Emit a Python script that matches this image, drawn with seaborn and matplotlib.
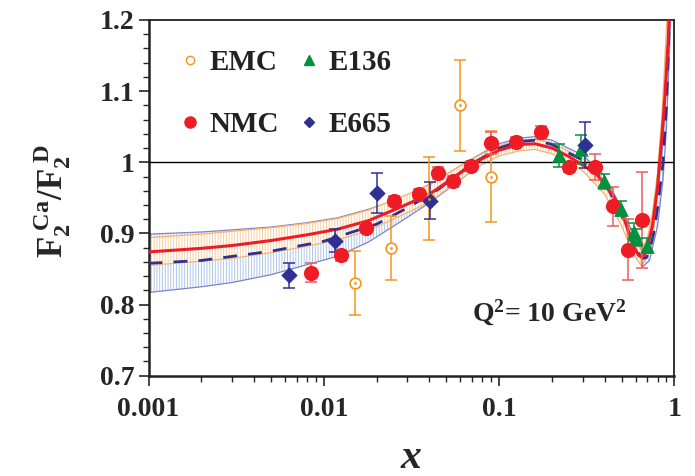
import numpy as np
import pandas as pd
import matplotlib
matplotlib.use("Agg")
import matplotlib.pyplot as plt
import seaborn as sns
from matplotlib.lines import Line2D

# ---------------- data ----------------
nmc_x = [0.0085, 0.0125, 0.0175, 0.0251, 0.0347, 0.0448, 0.0546, 0.0695, 0.0896,
         0.124, 0.174, 0.250, 0.350, 0.445, 0.544, 0.649]
nmc_y = [0.845, 0.869, 0.908, 0.946, 0.956, 0.985, 0.973, 0.995, 1.027,
         1.029, 1.042, 0.993, 0.993, 0.938, 0.877, 0.919]
nmc_e = [0.013, 0.008, 0.006, 0.007, 0.006, 0.008, 0.008, 0.007, 0.015,
         0.006, 0.009, 0.007, 0.018, 0.027, 0.043, 0.068]

emc_x = [0.0150, 0.0240, 0.0400, 0.0596, 0.0896]
emc_y = [0.830, 0.880, 0.949, 1.080, 0.980]
emc_e = [0.045, 0.045, 0.058, 0.064, 0.064]

e136_x = [0.218, 0.294, 0.394, 0.497, 0.585, 0.600, 0.695]
e136_y = [1.010, 1.018, 0.973, 0.935, 0.902, 0.894, 0.883]
e136_e = [0.016, 0.020, 0.010, 0.010, 0.012, 0.012, 0.010]

e665_x = [0.0063, 0.0116, 0.0202, 0.0402, 0.307]
e665_y = [0.841, 0.890, 0.957, 0.946, 1.024]
e665_e = [0.018, 0.016, 0.028, 0.026, 0.032]

# central fit (solid red)
fitA_x = [0.001, 0.002, 0.003, 0.005, 0.008, 0.012, 0.018, 0.028, 0.04, 0.06, 0.08,
          0.1, 0.13, 0.16, 0.2, 0.25, 0.3, 0.36, 0.45, 0.52, 0.58, 0.62, 0.645, 0.67,
          0.7, 0.75, 0.8, 0.85, 0.88, 0.92, 0.94]
fitA_y = [0.874, 0.879, 0.883, 0.890, 0.898, 0.906, 0.918, 0.938, 0.955, 0.985, 1.005,
          1.017, 1.025, 1.026, 1.020, 1.008, 0.996, 0.983, 0.952, 0.918, 0.884, 0.870, 0.867, 0.869,
          0.880, 0.912, 0.965, 1.040, 1.090, 1.170, 1.220]
# second fit (dashed navy)
fitB_x = [0.001, 0.002, 0.005, 0.01, 0.02, 0.03, 0.045, 0.07, 0.1, 0.13, 0.16, 0.2,
          0.3, 0.4, 0.5, 0.58, 0.63, 0.66, 0.69, 0.72, 0.76, 0.8, 0.86, 0.9, 0.935, 0.95]
fitB_y = [0.858, 0.862, 0.875, 0.889, 0.913, 0.936, 0.962, 0.998, 1.020, 1.029, 1.031,
          1.025, 1.003, 0.972, 0.925, 0.887, 0.870, 0.865, 0.866, 0.875, 0.900, 0.935, 1.000, 1.080,
          1.200, 1.250]
# uncertainty band of fit A (orange)
bandA_x = [0.001, 0.002, 0.003, 0.005, 0.008, 0.012, 0.018, 0.028, 0.04, 0.06, 0.08, 0.1,
           0.13, 0.16, 0.2, 0.3, 0.4, 0.5, 0.58, 0.645, 0.7, 0.75, 0.8, 0.85, 0.9, 0.93]
bandA_lo = [0.855, 0.861, 0.865, 0.873, 0.882, 0.891, 0.904, 0.926, 0.944, 0.976, 0.997, 1.009,
            1.016, 1.018, 1.012, 0.988, 0.955, 0.910, 0.872, 0.855, 0.866, 0.895, 0.955, 1.035, 1.135, 1.220]
bandA_hi = [0.894, 0.899, 0.903, 0.908, 0.914, 0.921, 0.933, 0.952, 0.968, 0.995, 1.012, 1.023,
            1.031, 1.032, 1.027, 1.005, 0.975, 0.932, 0.893, 0.877, 0.893, 0.930, 0.985, 1.070, 1.190, 1.260]
# uncertainty band of fit B (blue)
bandB_x = [0.001, 0.002, 0.003, 0.005, 0.008, 0.012, 0.018, 0.028, 0.04, 0.06, 0.08, 0.1,
           0.13, 0.16, 0.2, 0.3, 0.4, 0.5, 0.6, 0.66, 0.72, 0.8, 0.86, 0.9, 0.94, 0.96]
bandB_lo = [0.817, 0.825, 0.831, 0.842, 0.856, 0.868, 0.888, 0.918, 0.943, 0.975, 1.000, 1.012,
            1.022, 1.024, 1.018, 0.995, 0.962, 0.914, 0.868, 0.853, 0.862, 0.910, 0.975, 1.050, 1.170, 1.250]
bandB_hi = [0.899, 0.902, 0.905, 0.909, 0.915, 0.922, 0.934, 0.950, 0.969, 0.995, 1.013, 1.026,
            1.034, 1.036, 1.031, 1.010, 0.981, 0.935, 0.892, 0.878, 0.890, 0.960, 1.030, 1.110, 1.250, 1.300]

xticks = [0.001, 0.01, 0.1, 1]
xticklabels = ["0.001", "0.01", "0.1", "1"]
yticks = [0.7, 0.8, 0.9, 1.0, 1.1, 1.2]
yticklabels = ["0.7", "0.8", "0.9", "1", "1.1", "1.2"]

# ---------------- style ----------------
sns.set_style("ticks")
plt.rcParams["font.family"] = ["Liberation Serif", "DejaVu Serif"]
plt.rcParams["font.weight"] = "bold"
plt.rcParams["mathtext.fontset"] = "custom"
plt.rcParams["mathtext.rm"] = "Liberation Serif:bold"
plt.rcParams["mathtext.bf"] = "Liberation Serif:bold"
plt.rcParams["mathtext.it"] = "Liberation Serif:italic:bold"
plt.rcParams["hatch.linewidth"] = 0.7

RED = "#ee1c25"
ORANGE = "#f7941d"
GREEN = "#00923f"
NAVY = "#2e3192"

fig = plt.figure(figsize=(6.95, 4.76), dpi=100)
ax = fig.add_axes([0.2137, 0.2107, 0.7568, 0.7473])
ax.set_xscale("log")

# bands
ax.fill_between(bandB_x, bandB_lo, bandB_hi, facecolor="none",
                edgecolor="#aec6e8", hatch="||||||", linewidth=0, zorder=1)
ax.plot(bandB_x, bandB_lo, color="#7f83c9", lw=0.9, zorder=1.5)
ax.plot(bandB_x, bandB_hi, color="#7f83c9", lw=0.9, zorder=1.5)
ax.fill_between(bandA_x, bandA_lo, bandA_hi, facecolor="white",
                edgecolor="#f9cf9c", hatch="||||||", linewidth=0, zorder=2)
ax.plot(bandA_x, bandA_lo, color="#f6b46c", lw=0.9, zorder=2.5)
ax.plot(bandA_x, bandA_hi, color="#f6b46c", lw=0.9, zorder=2.5)

# fits
fitA = pd.DataFrame({"x": fitA_x, "y": fitA_y})
fitB = pd.DataFrame({"x": fitB_x, "y": fitB_y})
sns.lineplot(data=fitB, x="x", y="y", ax=ax, color=NAVY, lw=2.0,
             linestyle=(0, (5, 4)), sort=False, estimator=None, zorder=3)
sns.lineplot(data=fitA, x="x", y="y", ax=ax, color=RED, lw=2.2,
             sort=False, estimator=None, zorder=3.5)

ax.axhline(1.0, color="black", lw=1.0, zorder=2.8)

# data points with error bars
ax.errorbar(emc_x, emc_y, yerr=emc_e, fmt="none", ecolor=ORANGE, elinewidth=1.1,
            capsize=4, capthick=1.1, zorder=4)
sns.scatterplot(x=emc_x, y=emc_y, ax=ax, marker="o", s=60, facecolor="white",
                edgecolor=ORANGE, linewidth=1.2, zorder=5)
sns.scatterplot(x=emc_x, y=emc_y, ax=ax, marker="o", s=4, color=ORANGE,
                linewidth=0, zorder=5.1)

ax.errorbar(nmc_x, nmc_y, yerr=nmc_e, fmt="none", ecolor="#f05a60", elinewidth=1.1,
            capsize=4, capthick=1.1, zorder=4)
sns.scatterplot(x=nmc_x, y=nmc_y, ax=ax, marker="o", s=120, color=RED,
                linewidth=0, zorder=5)

ax.errorbar(e136_x, e136_y, yerr=e136_e, fmt="none", ecolor=GREEN, elinewidth=1.1,
            capsize=4, capthick=1.1, zorder=4)
sns.scatterplot(x=e136_x, y=e136_y, ax=ax, marker="^", s=110, color=GREEN,
                linewidth=0, zorder=5)

ax.errorbar(e665_x, e665_y, yerr=e665_e, fmt="none", ecolor=NAVY, elinewidth=1.1,
            capsize=4, capthick=1.1, zorder=4)
sns.scatterplot(x=e665_x, y=e665_y, ax=ax, marker="D", s=70, color=NAVY,
                linewidth=0, zorder=5)

# axes
ax.set_xlim(0.001, 1)
ax.set_ylim(0.7, 1.2)
ax.set_xticks(xticks)
ax.set_xticklabels(xticklabels)
ax.set_yticks(yticks)
ax.set_yticklabels(yticklabels)
ax.yaxis.set_minor_locator(matplotlib.ticker.MultipleLocator(0.02))
ax.tick_params(axis="both", which="major", direction="out", length=7, width=1.2,
               labelsize=20, top=False, right=False)
ax.tick_params(axis="x", which="major", pad=8)
ax.tick_params(axis="y", which="major", pad=3)
ax.tick_params(axis="both", which="minor", direction="out", length=4, width=1.0,
               top=False, right=False)
for lab in ax.get_xticklabels() + ax.get_yticklabels():
    lab.set_fontweight("bold")
for s in ax.spines.values():
    s.set_visible(True)
    s.set_linewidth(1.3)
    s.set_color("#222222")
ax.spines["left"].set_linewidth(1.8)
ax.spines["bottom"].set_linewidth(1.8)
ax.set_xlabel("")
ax.set_ylabel("")

# labels
fig.text(411 / 695, 1 - 458 / 476, r"$\mathit{x}$", fontsize=30, ha="center", va="center")
fig.text(52 / 695, 1 - 201 / 476,
         r"$\mathrm{F}_{\mathrm{2}}^{\ \mathrm{Ca}}\mathrm{/F}_{\mathrm{2}}^{\ \mathrm{D}}$",
         fontsize=25, rotation=90, ha="center", va="center")
ax.text(472 / 695, 1 - 313 / 476, r"Q$^\mathrm{2}$= 10 GeV$^\mathrm{2}$", transform=fig.transFigure,
        fontsize=20, fontweight="bold", ha="left", va="center")

# legend
handles = [
    Line2D([], [], ls="none", marker="o", ms=6, mfc="white", mec=ORANGE, mew=1.0),
    Line2D([], [], ls="none", marker="o", ms=8, color=RED),
    Line2D([], [], ls="none", marker="^", ms=7, color=GREEN),
    Line2D([], [], ls="none", marker="D", ms=5.5, color=NAVY),
]
labels = ["EMC", "NMC", "E136", "E665"]
leg = ax.legend(handles, labels, ncol=2, loc="upper left",
                bbox_to_anchor=(0.035, 0.95), frameon=False, fontsize=21,
                handlelength=0.8, handletextpad=0.25, columnspacing=0.65,
                labelspacing=1.2, borderaxespad=0)
for t in leg.get_texts():
    t.set_fontweight("bold")
    t.set_color("#222222")

fig.savefig("out.png", dpi=100)
